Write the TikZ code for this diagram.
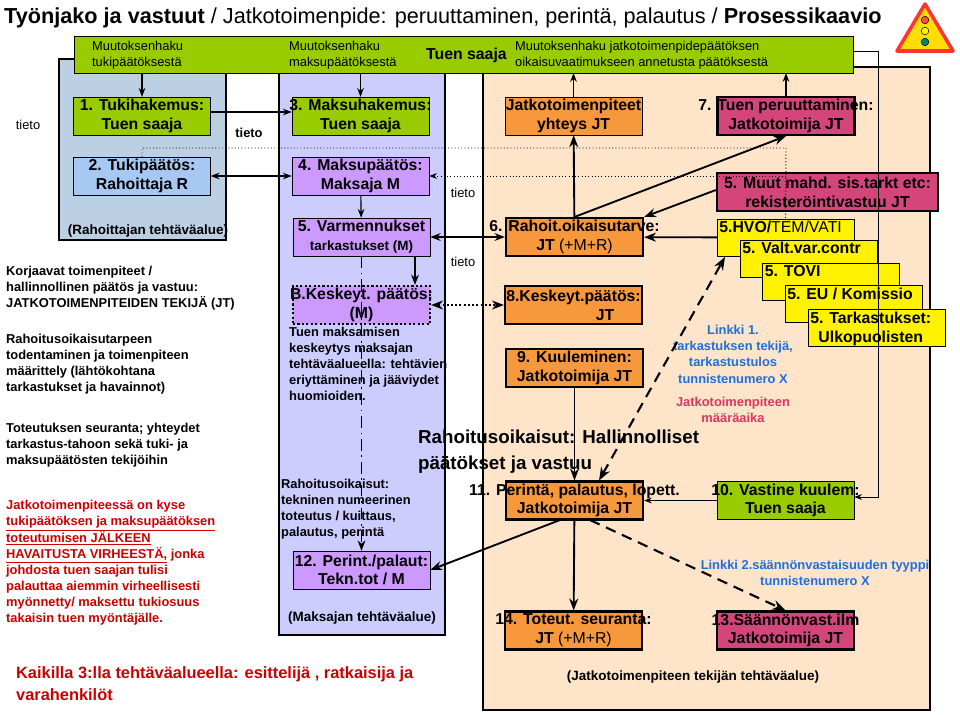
\documentclass[tikz,border=0pt]{standalone}
\usepackage{fontspec}
\setmainfont{Liberation Sans}
\usetikzlibrary{arrows.meta}
\definecolor{vihrea}{HTML}{99CC00}
\definecolor{sininen}{HTML}{BCD0E4}
\definecolor{vsininen}{HTML}{A6C8F2}
\definecolor{liila}{HTML}{CCCCFF}
\definecolor{violetti}{HTML}{CC99FF}
\definecolor{oranssi}{HTML}{F8983C}
\definecolor{magenta}{HTML}{D4457A}
\definecolor{persikka}{HTML}{FEE4C9}
\definecolor{punainen}{HTML}{CC0000}
\definecolor{linkki}{HTML}{1F6FE0}
\newcommand{\bx}[5]{\node[laatikko,#4] (#1) at (#2,#3) {};
	\node[otsikko] at (#1.center) {#5};}
\tikzset{
	laatikko/.style={draw,minimum width=4.11cm,minimum height=1.14cm,inner sep=0},
	otsikko/.style={align=center,font=\fontsize{13.5}{16}\selectfont\bfseries},
	pieni/.style={align=left,font=\fontsize{11}{13.6}\selectfont},
	vasen/.style={align=left,anchor=north west,font=\fontsize{11}{13.6}\selectfont\bfseries},
	nuoli/.style={->,line width=1.6pt},
	katko/.style={dash pattern=on 9pt off 6pt,line width=1.8pt},
}
\begin{document}
\begin{tikzpicture}[x=0.03cm,y=-0.03cm,>=Stealth]
	\useasboundingbox (0,0) rectangle (960,714);
	% alueet
	\draw[fill=sininen,line width=1pt] (59,59) rectangle (226,240);
	\draw[fill=liila,line width=1pt] (279,60) rectangle (445,635);
	\draw[fill=persikka,line width=1pt] (483,67) rectangle (930,710);
	\draw[fill=vihrea] (74,36) rectangle (853,73);
	\node[pieni,anchor=west] (muut1) at (88,55) {Muutoksenhaku\\tukipäätöksestä};
	\node[pieni,anchor=west] (muut2) at (285,55) {Muutoksenhaku\\maksupäätöksestä};
	\node[otsikko,anchor=west] (tsaaja) at (422,55) {Tuen saaja};
	\node[pieni,anchor=west] (muut3) at (511,55) {Muutoksenhaku jatkotoimenpidepäätöksen\\oikaisuvaatimukseen annetusta päätöksestä};
	% otsikko
	\node[anchor=west,font=\fontsize{18.5}{22}\selectfont] (otsi) at (0,18)
	{\textbf{Työnjako ja vastuut} / Jatkotoimenpide: peruuttaminen, perintä, palautus  /  \textbf{Prosessikaavio}};
	% liikennemerkki
	\draw[fill=yellow!80!orange,draw=red!80,line width=3pt,line join=round] (897,51)--(953,51)--(925,4)--cycle;
	\foreach \y/\c in {20/red!70,31/yellow,42/teal}{
		\draw[fill=\c] (925,\y) circle (3.8);}
	% laatikot
	\bx{tukihak}{142}{116}{fill=vihrea}{1. Tukihakemus:\\Tuen saaja}
	\bx{tukipaat}{142}{176}{fill=vsininen}{2. Tukipäätös:\\Rahoittaja R}
	\bx{maksuhak}{360.5}{116}{fill=vihrea}{3. Maksuhakemus:\\Tuen saaja}
	\bx{maksupaat}{360.5}{176}{fill=violetti}{4. Maksupäätös:\\Maksaja M}
	\bx{varm}{361.5}{237}{fill=violetti}{5. Varmennukset\\{\fontsize{11.5}{14}\selectfont tarkastukset (M)}}
	\bx{keskM}{361.5}{305}{fill=violetti,dotted,line width=1.8pt}{B.Keskeyt. päätös:\\(M)}
	\bx{perintM}{361.5}{570}{fill=violetti}{12. Perint./palaut:\\Tekn.tot / M}
	\bx{jatkoyht}{573.5}{116}{fill=oranssi}{Jatkotoimenpiteet\\yhteys JT}
	\bx{peruutt}{786}{116}{fill=magenta,line width=1.8pt}{7. Tuen peruuttaminen:\\Jatkotoimija JT}
	\bx{muut}{827.5}{192}{fill=magenta,line width=1.8pt,minimum width=6.63cm}{5. Muut mahd. sis.tarkt etc:\\rekisteröintivastuu JT}
	\bx{oikais}{574.5}{237}{fill=oranssi,line width=1.8pt}{6. Rahoit.oikaisutarve:\\JT \mdseries(+M+R)}
	\bx{keskJT}{573.5}{305}{fill=oranssi,line width=1.8pt}{8.Keskeyt.päätös:\\\hspace*{4em}JT}
	\bx{kuul}{574.5}{368}{fill=oranssi,line width=1.8pt}{9. Kuuleminen:\\Jatkotoimija JT}
	\bx{perinta}{574.5}{500.5}{fill=oranssi,line width=1.8pt}{11.  Perintä, palautus, lopett.\\Jatkotoimija JT}
	\bx{vastine}{785.5}{500.5}{fill=vihrea}{10. Vastine kuulem:\\Tuen saaja}
	\bx{toteut}{573.5}{630.5}{fill=oranssi,line width=1.8pt}{14.  Toteut. seuranta:\\JT \mdseries(+M+R)}
	\bx{saannon}{785.5}{630.5}{fill=magenta,line width=1.8pt}{13.Säännönvast.ilm\\Jatkotoimija JT}
	\foreach \i/\x/\y/\t in {1/785.5/237.5/{5.HVO/\mdseries TEM/VATI},2/808.5/258.5/{5. Valt.var.contr},
		3/831/282/{5. TOVI},4/853.5/304/{5. EU / Komissio},5/876.5/328/{5. Tarkastukset:\\Ulkopuolisten}}{
		\node[laatikko,fill=yellow,minimum height=1.11cm] (kelt\i) at (\x,\y) {};
		\node[otsikko,anchor=north west,inner sep=2pt] at (kelt\i.north west) {\t};
	}
	% tekstit
	\node[pieni] (t1) at (28,125) {tieto};
	\node[otsikko,font=\fontsize{11}{13}\selectfont\bfseries] (t2) at (249,133) {tieto};
	\node[pieni] (t3) at (463,193) {tieto};
	\node[pieni] (t4) at (463,262) {tieto};
	\node[otsikko,font=\fontsize{11.5}{14}\selectfont\bfseries] (rahalue) at (148,231) {(Rahoittajan tehtäväalue)};
	\node[otsikko,font=\fontsize{11.5}{14}\selectfont\bfseries] (maksalue) at (362,618) {(Maksajan tehtäväalue)};
	\node[otsikko,font=\fontsize{11.5}{14}\selectfont\bfseries] (jtalue) at (693,677) {(Jatkotoimenpiteen tekijän tehtäväalue)};
	\node[vasen] (tuenm) at (285,323) {Tuen maksamisen\\keskeytys maksajan\\tehtäväalueella:  tehtävien\\eriyttäminen ja jääviydet\\huomioiden.};
	\node[vasen] (rahtek) at (277,475) {Rahoitusoikaisut:\\tekninen numeerinen\\toteutus /  kuittaus,\\palautus, perintä};
	\node[vasen] (korj) at (2,262) {Korjaavat toimenpiteet /\\hallinnollinen päätös ja vastuu:\\JATKOTOIMENPITEIDEN TEKIJÄ  (JT)};
	\node[vasen] (todent) at (2,330) {Rahoitusoikaisutarpeen\\todentaminen ja toimenpiteen\\määrittely (lähtökohtana\\tarkastukset ja havainnot)};
	\node[vasen] (seur) at (2,419) {Toteutuksen seuranta; yhteydet\\tarkastus-tahoon sekä tuki- ja\\maksupäätösten tekijöihin};
	\node[vasen,text=punainen] (virhe) at (2,496) {Jatkotoimenpiteessä on kyse\\\underline{tukipäätöksen ja maksupäätöksen}\\\underline{toteutumisen JÄLKEEN}\\\underline{HAVAITUSTA VIRHEESTÄ,}  jonka\\johdosta tuen saajan tulisi\\palauttaa aiemmin virheellisesti\\myönnetty/ maksettu tukiosuus\\takaisin tuen myöntäjälle.};
	\node[vasen,text=punainen,font=\fontsize{14}{19}\selectfont\bfseries] (kaikki) at (12,662) {Kaikilla 3:lla tehtäväalueella: esittelijä , ratkaisija ja\\varahenkilöt};
	\node[vasen,font=\fontsize{16}{22}\selectfont\bfseries] (hallinto) at (414,426) {Rahoitusoikaisut: Hallinnolliset\\päätökset ja vastuu};
	\node[otsikko,text=linkki,font=\fontsize{11}{14}\selectfont\bfseries] (linkki1) at (733,354) {Linkki 1.\\tarkastuksen tekijä,\\tarkastustulos\\tunnistenumero X};
	\node[otsikko,text=magenta!80!red,font=\fontsize{11}{14}\selectfont\bfseries] (maarai) at (733,410) {Jatkotoimenpiteen\\määräaika};
	\node[otsikko,text=linkki,font=\fontsize{11}{14}\selectfont\bfseries] (linkki2) at (815,573) {Linkki 2.säännönvastaisuuden tyyppi\\tunnistenumero X};
	% nuolet
	\draw[->,line width=1pt] (tukihak.north |- 0,73) -- (tukihak);
	\draw[->,line width=1pt] (maksuhak.north |- 0,73) -- (maksuhak);
	\draw[->,line width=1pt] (jatkoyht) -- (jatkoyht.north |- 0,73);
	\draw[->,line width=1pt] (peruutt) -- (peruutt.north |- 0,73);
	\draw[->,line width=1pt] (tukihak.east |- 0,112) -- (maksuhak.west |- 0,112);
	\draw[<->,line width=1pt] (tukipaat) -- (maksupaat);
	\draw[dotted,line width=0.8pt] (tukipaat.north) -- (142,148) -- (786,148) -- (kelt1.north);
	\draw[dotted,<-,line width=0.8pt] (maksupaat) -- (786,176);
	\draw[->,line width=1pt] (maksupaat) -- (varm);
	\draw[<->,line width=1.3pt] (varm) -- (oikais);
	\draw[->,line width=1.3pt] (415,256) -- (keskM.north -| 415,0);
	\draw[dash pattern=on 10pt off 4pt on 1.5pt off 4pt,->,line width=1.3pt] (varm) -- (perintM);
	\draw[<->,dotted,line width=1.6pt] (keskM) -- (keskJT);
	\draw[nuoli] (oikais) -- (jatkoyht);
	\draw[nuoli] (oikais.north) -- (peruutt.south);
	\draw[nuoli] (muut.west |- 0,190) -- (oikais.north east);
	\draw[nuoli] (kelt1) -- (oikais);
	\draw[<->,katko] (perinta.north east) ++(-45,0) -- (725,257);
	\draw[nuoli] (kuul) -- (perinta);
	\draw[->,line width=0.8pt] (vastine) -- (perinta);
	\draw[->,line width=0.8pt] (853,51) -- (878,51) -- (878,497) -- (vastine.east |- 0,497);
	\draw[nuoli] (perinta) -- (toteut);
	\draw[->,katko] (590,520) -- (saannon.north);
	\draw[nuoli] (560,520) -- (perintM.east);
\end{tikzpicture}
\end{document}
